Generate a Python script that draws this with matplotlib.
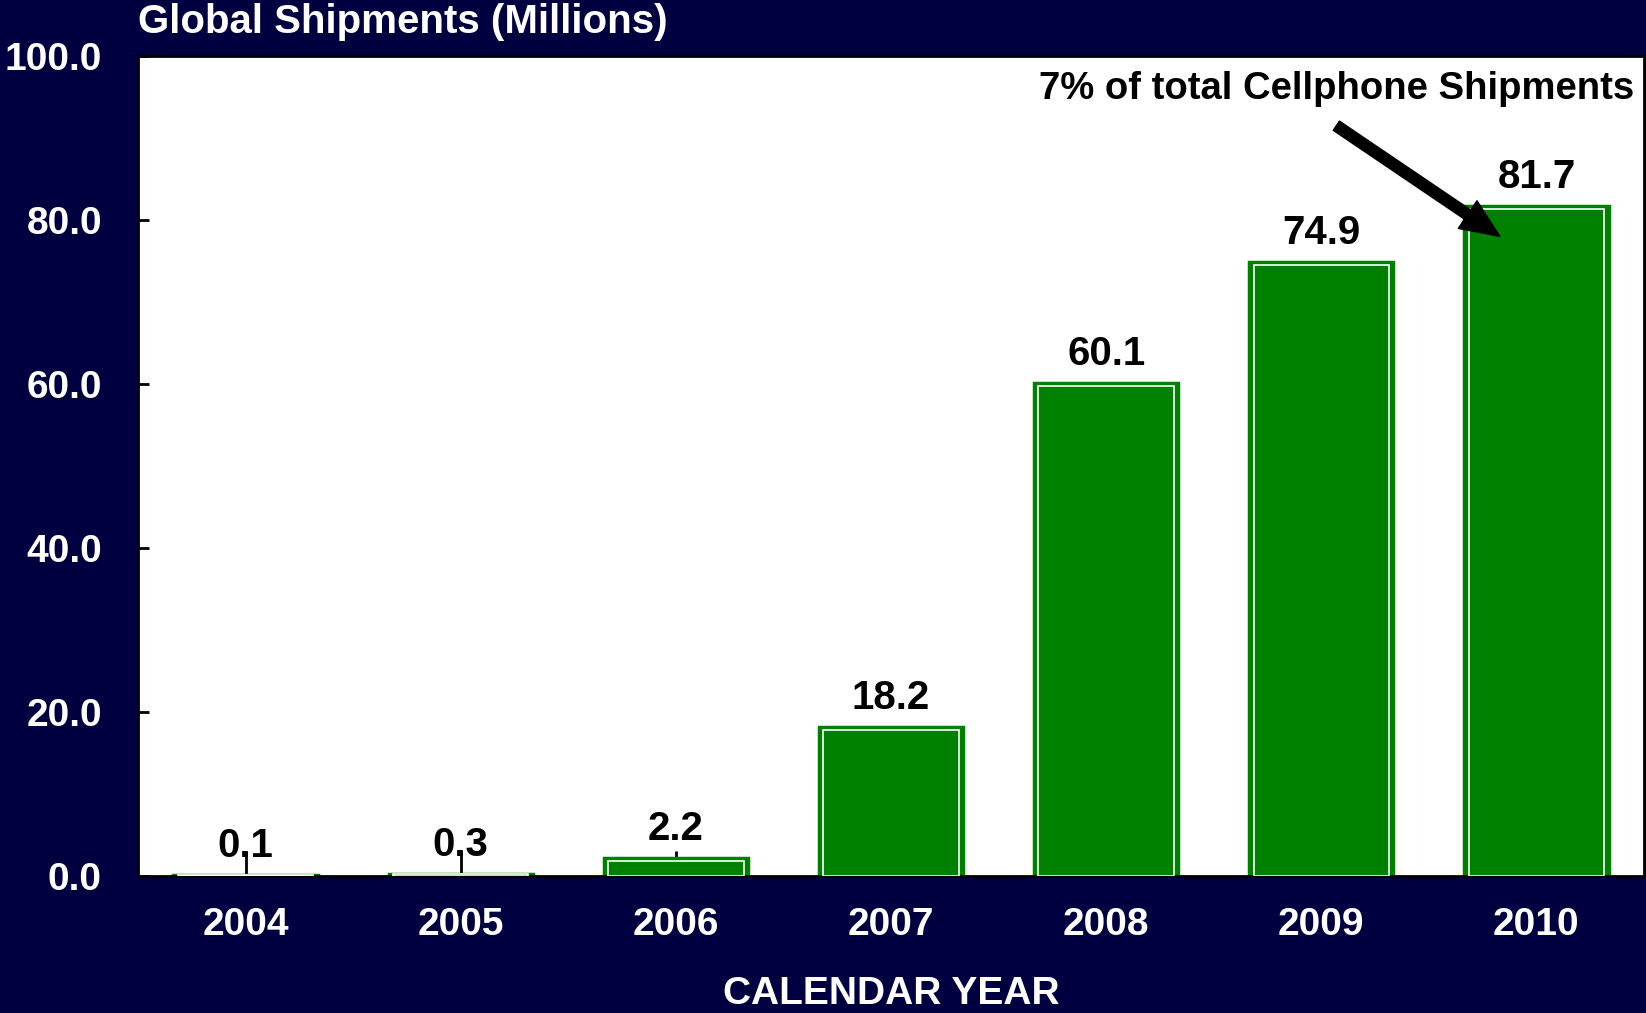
import matplotlib.pyplot as plt

years = ['2004', '2005', '2006', '2007', '2008', '2009', '2010']
shipments = [0.1, 0.3, 2.2, 18.2, 60.1, 74.9, 81.7]
y_ticks = [0, 20, 40, 60, 80, 100]

navy = '#000040'
green = '#008000'

plt.rcParams['font.family'] = ['Liberation Sans', 'DejaVu Sans']
plt.rcParams['font.weight'] = 'bold'

fig = plt.figure(figsize=(16.46, 10.13), dpi=100, facecolor=navy)
ax = fig.add_axes([138 / 1646, 1 - 876 / 1013, (1644 - 138) / 1646, (876 - 56) / 1013])
ax.set_facecolor('white')

x = list(range(len(years)))
ax.bar(x, shipments, width=0.67, color=green, edgecolor=green, linewidth=2.5, zorder=2)
# thin white inner outline like the original
ax.bar(x, [v - 0.35 if v > 0.5 else v for v in shipments], width=0.63,
       fill=False, edgecolor='white', linewidth=1.2, zorder=3)

for xi, v in zip(x, shipments):
    ax.annotate(f'{v:.1f}', (xi, v), xytext=(0, 7), textcoords='offset points',
                ha='center', va='bottom', fontsize=29, fontweight='bold', color='black')

ax.set_xlim(-0.5, 6.5)
ax.set_ylim(0, 100)
ax.set_xticks(x)
ax.set_xticklabels(years)
ax.set_yticks(y_ticks)
ax.set_yticklabels([f'{t:.1f}' for t in y_ticks])
ax.tick_params(axis='x', direction='in', length=18, width=2, color='black',
               labelcolor='white', labelsize=28, pad=22)
ax.tick_params(axis='y', direction='in', length=8, width=2, color='black',
               labelcolor='white', labelsize=28, pad=26)
for lbl in ax.get_xticklabels() + ax.get_yticklabels():
    lbl.set_fontweight('bold')
for s in ax.spines.values():
    s.set_color('black')
    s.set_linewidth(2)

ax.set_xlabel('CALENDAR YEAR', color='white', fontsize=28, fontweight='bold', labelpad=24)

fig.text(138 / 1646, 1 - 22 / 1013, 'Global Shipments (Millions)', color='white',
         fontsize=29, fontweight='bold', ha='left', va='center')

ax.annotate('', xy=(5.83, 78.0), xytext=(5.07, 91.5),
            arrowprops=dict(facecolor='black', edgecolor='black', width=8,
                            headwidth=24, headlength=28), zorder=5)
ax.text(5.07, 96.0, '7% of total Cellphone Shipments', ha='center', va='center',
        fontsize=27.5, fontweight='bold', color='black')

plt.savefig('out.png', dpi=100, facecolor=navy)
